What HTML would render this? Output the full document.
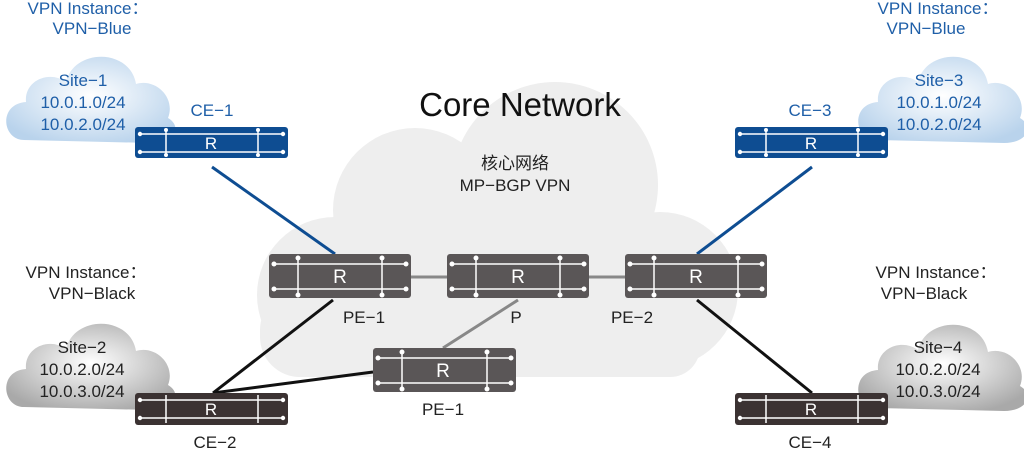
<!DOCTYPE html>
<html><head><meta charset="utf-8"><style>
html,body{margin:0;padding:0;background:#fff;}
svg{display:block;font-family:"Liberation Sans","Noto Sans CJK SC",sans-serif;}
</style></head><body>
<svg width="1024" height="452" viewBox="0 0 1024 452" xmlns="http://www.w3.org/2000/svg">
<defs>
<radialGradient id="gb" cx="50%" cy="45%" r="60%"><stop offset="0" stop-color="#ffffff"/><stop offset="1" stop-color="#b9d3ec"/></radialGradient>
<radialGradient id="gg" cx="50%" cy="45%" r="60%"><stop offset="0" stop-color="#ffffff"/><stop offset="1" stop-color="#a9a9a9"/></radialGradient>
<path id="cl" d="M22,92 C0,92 -4,56 24,54 C22,32 48,22 64,34 C72,0 128,0 134,36 C154,30 174,50 166,70 C180,78 174,95 150,95 Z"/>
</defs>
<g fill="#eeeeee">
<circle cx="415" cy="210" r="82"/>
<circle cx="555" cy="185" r="103"/>
<circle cx="335" cy="295" r="78"/>
<circle cx="660" cy="290" r="78"/>
<rect x="300" y="230" width="400" height="147" rx="30"/>
<rect x="260" y="290" width="160" height="87" rx="40"/>
</g>
<use href="#cl" transform="translate(2,48)" fill="url(#gb)"/>
<use href="#cl" transform="translate(854,48)" fill="url(#gb)"/>
<use href="#cl" transform="translate(2,315)" fill="url(#gg)"/>
<use href="#cl" transform="translate(854,316)" fill="url(#gg)"/>
<g stroke-width="3" fill="none">
<line x1="212" y1="167" x2="335" y2="254" stroke="#0e4d92"/>
<line x1="812" y1="167" x2="697" y2="254" stroke="#0e4d92"/>
<line x1="411" y1="277" x2="447" y2="277" stroke="#888" />
<line x1="589" y1="277" x2="625" y2="277" stroke="#888"/>
<line x1="518" y1="300" x2="443" y2="348" stroke="#888"/>
<line x1="333" y1="300" x2="213" y2="393" stroke="#111"/>
<line x1="213" y1="393" x2="373" y2="372" stroke="#111"/>
<line x1="697" y1="300" x2="812" y2="393" stroke="#111"/>
</g>
<g stroke="#fff" stroke-width="1.5" font-size="17" text-anchor="middle">
<g><rect x="135" y="127" width="153" height="31" rx="3" fill="#0e4d92" stroke="none"/>
<line x1="140" y1="134" x2="283" y2="134"/><line x1="140" y1="152" x2="283" y2="152"/>
<line x1="166" y1="129" x2="166" y2="156"/><line x1="258" y1="129" x2="258" y2="156"/>
<g fill="#fff" stroke="none"><circle cx="140" cy="134" r="2.2"/><circle cx="283" cy="134" r="2.2"/><circle cx="140" cy="152" r="2.2"/><circle cx="283" cy="152" r="2.2"/><circle cx="166" cy="130" r="2"/><circle cx="166" cy="155" r="2"/><circle cx="258" cy="130" r="2"/><circle cx="258" cy="155" r="2"/></g>
<text x="211" y="149" fill="#fff" stroke="none">R</text></g>
<g><rect x="735" y="127" width="153" height="31" rx="3" fill="#0e4d92" stroke="none"/>
<line x1="740" y1="134" x2="883" y2="134"/><line x1="740" y1="152" x2="883" y2="152"/>
<line x1="766" y1="129" x2="766" y2="156"/><line x1="858" y1="129" x2="858" y2="156"/>
<g fill="#fff" stroke="none"><circle cx="740" cy="134" r="2.2"/><circle cx="883" cy="134" r="2.2"/><circle cx="740" cy="152" r="2.2"/><circle cx="883" cy="152" r="2.2"/><circle cx="766" cy="130" r="2"/><circle cx="766" cy="155" r="2"/><circle cx="858" cy="130" r="2"/><circle cx="858" cy="155" r="2"/></g>
<text x="811" y="149" fill="#fff" stroke="none">R</text></g>
<g><rect x="135" y="393" width="153" height="32" rx="3" fill="#3b3232" stroke="none"/>
<line x1="140" y1="400" x2="283" y2="400"/><line x1="140" y1="418" x2="283" y2="418"/>
<line x1="166" y1="395" x2="166" y2="423"/><line x1="258" y1="395" x2="258" y2="423"/>
<g fill="#fff" stroke="none"><circle cx="140" cy="400" r="2.2"/><circle cx="283" cy="400" r="2.2"/><circle cx="140" cy="418" r="2.2"/><circle cx="283" cy="418" r="2.2"/></g>
<text x="211" y="415" fill="#fff" stroke="none">R</text></g>
<g><rect x="735" y="393" width="153" height="32" rx="3" fill="#3b3232" stroke="none"/>
<line x1="740" y1="400" x2="883" y2="400"/><line x1="740" y1="418" x2="883" y2="418"/>
<line x1="766" y1="395" x2="766" y2="423"/><line x1="858" y1="395" x2="858" y2="423"/>
<g fill="#fff" stroke="none"><circle cx="740" cy="400" r="2.2"/><circle cx="883" cy="400" r="2.2"/><circle cx="740" cy="418" r="2.2"/><circle cx="883" cy="418" r="2.2"/></g>
<text x="811" y="415" fill="#fff" stroke="none">R</text></g>
<g><rect x="269" y="254" width="142" height="44" rx="3" fill="#5a5657" stroke="none"/>
<line x1="274" y1="264" x2="406" y2="264"/><line x1="274" y1="289" x2="406" y2="289"/>
<line x1="298" y1="258" x2="298" y2="295"/><line x1="382" y1="258" x2="382" y2="295"/>
<g fill="#fff" stroke="none"><circle cx="274" cy="264" r="2.5"/><circle cx="406" cy="264" r="2.5"/><circle cx="274" cy="289" r="2.5"/><circle cx="406" cy="289" r="2.5"/><circle cx="298" cy="258" r="2.5"/><circle cx="298" cy="295" r="2.5"/><circle cx="382" cy="258" r="2.5"/><circle cx="382" cy="295" r="2.5"/></g>
<text x="340" y="283" fill="#fff" stroke="none" font-size="19">R</text></g>
<g><rect x="447" y="254" width="142" height="44" rx="3" fill="#5a5657" stroke="none"/>
<line x1="452" y1="264" x2="584" y2="264"/><line x1="452" y1="289" x2="584" y2="289"/>
<line x1="476" y1="258" x2="476" y2="295"/><line x1="560" y1="258" x2="560" y2="295"/>
<g fill="#fff" stroke="none"><circle cx="452" cy="264" r="2.5"/><circle cx="584" cy="264" r="2.5"/><circle cx="452" cy="289" r="2.5"/><circle cx="584" cy="289" r="2.5"/><circle cx="476" cy="258" r="2.5"/><circle cx="476" cy="295" r="2.5"/><circle cx="560" cy="258" r="2.5"/><circle cx="560" cy="295" r="2.5"/></g>
<text x="518" y="283" fill="#fff" stroke="none" font-size="19">R</text></g>
<g><rect x="625" y="254" width="142" height="44" rx="3" fill="#5a5657" stroke="none"/>
<line x1="630" y1="264" x2="762" y2="264"/><line x1="630" y1="289" x2="762" y2="289"/>
<line x1="654" y1="258" x2="654" y2="295"/><line x1="738" y1="258" x2="738" y2="295"/>
<g fill="#fff" stroke="none"><circle cx="630" cy="264" r="2.5"/><circle cx="762" cy="264" r="2.5"/><circle cx="630" cy="289" r="2.5"/><circle cx="762" cy="289" r="2.5"/><circle cx="654" cy="258" r="2.5"/><circle cx="654" cy="295" r="2.5"/><circle cx="738" cy="258" r="2.5"/><circle cx="738" cy="295" r="2.5"/></g>
<text x="696" y="283" fill="#fff" stroke="none" font-size="19">R</text></g>
<g><rect x="373" y="348" width="143" height="44" rx="3" fill="#5a5657" stroke="none"/>
<line x1="378" y1="358" x2="511" y2="358"/><line x1="378" y1="383" x2="511" y2="383"/>
<line x1="402" y1="352" x2="402" y2="389"/><line x1="487" y1="352" x2="487" y2="389"/>
<g fill="#fff" stroke="none"><circle cx="378" cy="358" r="2.5"/><circle cx="511" cy="358" r="2.5"/><circle cx="378" cy="383" r="2.5"/><circle cx="511" cy="383" r="2.5"/><circle cx="402" cy="352" r="2.5"/><circle cx="402" cy="389" r="2.5"/><circle cx="487" cy="352" r="2.5"/><circle cx="487" cy="389" r="2.5"/></g>
<text x="443" y="377" fill="#fff" stroke="none" font-size="19">R</text></g>
</g>
<g font-size="17" fill="#1f5fa8" text-anchor="middle">
<text x="88" y="14">VPN Instance：</text><text x="92" y="34">VPN−Blue</text>
<text x="938" y="14">VPN Instance：</text><text x="926" y="34">VPN−Blue</text>
<text x="83" y="86">Site−1</text><text x="83" y="108">10.0.1.0/24</text><text x="83" y="130">10.0.2.0/24</text>
<text x="939" y="86">Site−3</text><text x="939" y="108">10.0.1.0/24</text><text x="939" y="130">10.0.2.0/24</text>
<text x="212" y="116">CE−1</text><text x="810" y="116">CE−3</text>
</g>
<g font-size="17" fill="#222" text-anchor="middle">
<text x="86" y="278">VPN Instance：</text><text x="92" y="299">VPN−Black</text>
<text x="936" y="278">VPN Instance：</text><text x="924" y="299">VPN−Black</text>
<text x="82" y="353">Site−2</text><text x="82" y="375">10.0.2.0/24</text><text x="82" y="397">10.0.3.0/24</text>
<text x="938" y="353">Site−4</text><text x="938" y="375">10.0.2.0/24</text><text x="938" y="397">10.0.3.0/24</text>
<text x="215" y="448">CE−2</text><text x="810" y="448">CE−4</text>
<text x="364" y="323">PE−1</text><text x="516" y="323">P</text><text x="632" y="323">PE−2</text>
<text x="443" y="415">PE−1</text>
<text x="515" y="169">核心网络</text><text x="515" y="191">MP−BGP VPN</text>
<text x="520" y="116" font-size="33" fill="#111">Core Network</text>
</g>
</svg>
</body></html>
